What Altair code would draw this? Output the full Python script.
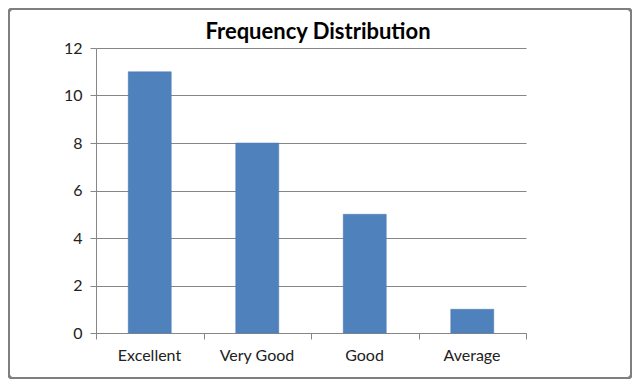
import altair as alt
import pandas as pd

categories = ["Excellent", "Very Good", "Good", "Average"]
frequencies = [11, 8, 5, 1]
title_text = "Frequency Distribution"

df = pd.DataFrame({"category": categories, "freq": frequencies, "idx": list(range(len(categories)))})

label_list = ",".join("'" + c + "'" for c in categories) + ",''"
label_expr = "[" + label_list + "][datum.value]"

n = len(categories)
FONT = "Lato"

x_scale = alt.Scale(domain=[0, n], nice=False, zero=False)
y_scale = alt.Scale(domain=[0, 12], nice=False)

bars = alt.Chart(df).transform_calculate(
    x0="datum.idx + 0.3", x1="datum.idx + 0.7", base="0"
).mark_bar(color="#4F81BD", stroke="#4A7AB3", strokeWidth=0.5).encode(
    x=alt.X("x0:Q", scale=x_scale, title=None,
            axis=alt.Axis(values=list(range(n + 1)), labelExpr=label_expr,
                          labelOffset=53, labelFlush=False, labelOverlap=False,
                          grid=False, tickSize=6, tickColor="#868686",
                          domainColor="#868686", labelPadding=8,
                          labelFont=FONT, labelFontSize=16, labelColor="#222222")),
    x2="x1:Q",
    y=alt.Y("freq:Q", scale=y_scale, title=None,
            axis=alt.Axis(values=[0, 2, 4, 6, 8, 10, 12], grid=True, gridColor="#868686",
                          tickSize=6, tickColor="#868686", domainColor="#868686",
                          labelPadding=8, labelFont=FONT, labelFontSize=16,
                          labelColor="#222222")),
    y2="base:Q",
)

frame = alt.Chart(df).mark_rect(
    fill=None, stroke="#7F7F7F", strokeWidth=2, cornerRadius=3, clip=False
).encode(
    x=alt.value(-87), x2=alt.value(535), y=alt.value(-39), y2=alt.value(330)
)

title = alt.Chart(pd.DataFrame({"t": [title_text]})).mark_text(
    font=FONT, fontSize=22, fontWeight="bold", color="#000000",
    align="center", baseline="alphabetic", clip=False
).encode(text="t:N", x=alt.value(222), y=alt.value(-9))

chart = alt.layer(frame, bars, title).properties(
    width=430, height=285,
    autosize=alt.AutoSizeParams(type="none"),
    padding={"left": 88, "top": 40, "right": 106, "bottom": 46},
).configure_view(stroke=None).configure_axis(gridWidth=1, domainWidth=1)

chart.save("out.html", embed_options={"renderer": "svg", "actions": False})
